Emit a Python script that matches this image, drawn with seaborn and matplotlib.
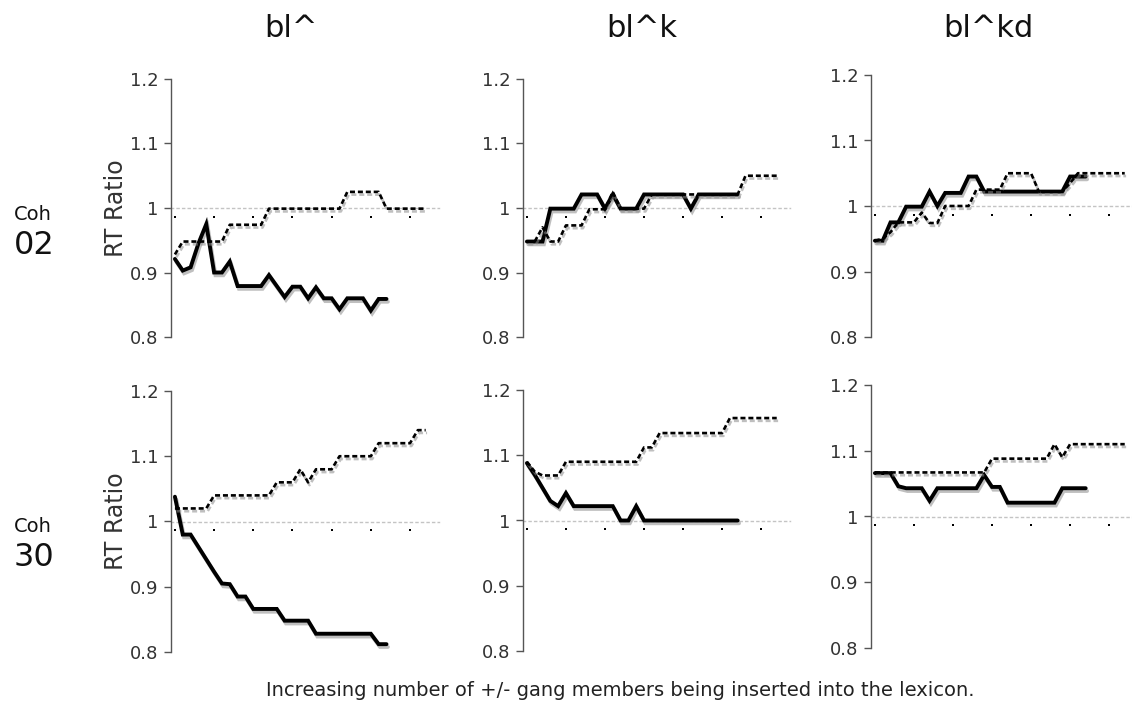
import numpy as np
import pandas as pd
import matplotlib
matplotlib.use("Agg")
import matplotlib.pyplot as plt
import matplotlib.patheffects as pe
from matplotlib.transforms import ScaledTranslation
import seaborn as sns

# ---------------- data ----------------
COLUMNS = ["bl^", "bl^k", "bl^kd"]
ROWS = ["02", "30"]
ROW_PREFIX = "Coh"
Y_LABEL = "RT Ratio"
X_LABEL = "Increasing number of +/- gang members being inserted into the lexicon."
YTICKS = [0.8, 0.9, 1.0, 1.1, 1.2]
YTICK_LABELS = ["0.8", "0.9", "1", "1.1", "1.2"]
XTICKS = [0, 5, 10, 15, 20, 25, 30]
REF_LEVEL = 1.0

coh02_bl_solid = [0.921, 0.903, 0.908, 0.945, 0.975, 0.900, 0.900, 0.917, 0.879, 0.879,
                  0.879, 0.879, 0.896, 0.879, 0.862, 0.878, 0.878, 0.860, 0.877, 0.860,
                  0.860, 0.843, 0.860, 0.860, 0.860, 0.841, 0.859, 0.859]
coh02_bl_dotted = [0.928, 0.948, 0.948, 0.948, 0.948, 0.948, 0.948, 0.974, 0.974, 0.974,
                   0.974, 0.974, 0.999, 0.999, 0.999, 0.999, 0.999, 0.999, 0.999, 0.999,
                   0.999, 0.999, 1.025, 1.025, 1.025, 1.025, 1.025, 0.999, 0.999, 0.999,
                   0.999, 0.999, 0.999]

coh02_blk_solid = [0.948, 0.948, 0.948, 0.999, 0.999, 0.999, 0.999, 1.021, 1.021, 1.021,
                   0.999, 1.021, 0.999, 0.999, 0.999, 1.021, 1.021, 1.021, 1.021, 1.021,
                   1.021, 0.999, 1.021, 1.021, 1.021, 1.021, 1.021, 1.021]
coh02_blk_dotted = [0.948, 0.948, 0.970, 0.948, 0.948, 0.973, 0.973, 0.973, 0.998, 0.998,
                    0.998, 1.025, 0.999, 0.999, 0.999, 0.999, 1.021, 1.021, 1.021, 1.021,
                    1.021, 1.021, 1.021, 1.021, 1.021, 1.021, 1.021, 1.021, 1.050, 1.050,
                    1.050, 1.050, 1.050]

coh02_blkd_solid = [0.947, 0.947, 0.975, 0.975, 0.999, 0.999, 0.999, 1.022, 1.000, 1.020,
                    1.020, 1.020, 1.045, 1.045, 1.022, 1.022, 1.022, 1.022, 1.022, 1.022,
                    1.022, 1.022, 1.022, 1.022, 1.022, 1.045, 1.045, 1.045]
coh02_blkd_dotted = [0.947, 0.950, 0.960, 0.975, 0.975, 0.975, 0.990, 0.974, 0.974, 1.000,
                     1.000, 1.000, 1.000, 1.025, 1.025, 1.025, 1.025, 1.050, 1.050, 1.050,
                     1.050, 1.022, 1.022, 1.022, 1.022, 1.035, 1.050, 1.050, 1.050, 1.050,
                     1.050, 1.050, 1.050]

coh30_bl_solid = [1.038, 0.980, 0.980, 0.961, 0.942, 0.923, 0.905, 0.904, 0.885, 0.885,
                  0.866, 0.866, 0.866, 0.866, 0.848, 0.848, 0.848, 0.848, 0.828, 0.828,
                  0.828, 0.828, 0.828, 0.828, 0.828, 0.828, 0.812, 0.812]
coh30_bl_dotted = [1.020, 1.020, 1.020, 1.020, 1.020, 1.040, 1.040, 1.040, 1.040, 1.040,
                   1.040, 1.040, 1.040, 1.060, 1.060, 1.060, 1.080, 1.060, 1.080, 1.080,
                   1.080, 1.100, 1.100, 1.100, 1.100, 1.100, 1.120, 1.120, 1.120, 1.120,
                   1.120, 1.140, 1.140]

coh30_blk_solid = [1.088, 1.070, 1.050, 1.030, 1.022, 1.042, 1.022, 1.022, 1.022, 1.022,
                   1.022, 1.022, 1.000, 1.000, 1.022, 1.000, 1.000, 1.000, 1.000, 1.000,
                   1.000, 1.000, 1.000, 1.000, 1.000, 1.000, 1.000, 1.000]
coh30_blk_dotted = [1.090, 1.075, 1.069, 1.069, 1.069, 1.090, 1.090, 1.090, 1.090, 1.090,
                    1.090, 1.090, 1.090, 1.090, 1.090, 1.112, 1.112, 1.134, 1.134, 1.134,
                    1.134, 1.134, 1.134, 1.134, 1.134, 1.134, 1.157, 1.157, 1.157, 1.157,
                    1.157, 1.157, 1.157]

coh30_blkd_solid = [1.066, 1.066, 1.066, 1.046, 1.043, 1.043, 1.043, 1.024, 1.043, 1.043,
                    1.043, 1.043, 1.043, 1.043, 1.063, 1.045, 1.045, 1.021, 1.021, 1.021,
                    1.021, 1.021, 1.021, 1.021, 1.043, 1.043, 1.043, 1.043]
coh30_blkd_dotted = [1.067, 1.067, 1.067, 1.067, 1.067, 1.067, 1.067, 1.067, 1.067, 1.067,
                     1.067, 1.067, 1.067, 1.067, 1.067, 1.088, 1.088, 1.088, 1.088, 1.088,
                     1.088, 1.088, 1.088, 1.110, 1.090, 1.110, 1.110, 1.110, 1.110, 1.110,
                     1.110, 1.110, 1.110]

SOLID = [[coh02_bl_solid, coh02_blk_solid, coh02_blkd_solid],
         [coh30_bl_solid, coh30_blk_solid, coh30_blkd_solid]]
DOTTED = [[coh02_bl_dotted, coh02_blk_dotted, coh02_blkd_dotted],
          [coh30_bl_dotted, coh30_blk_dotted, coh30_blkd_dotted]]

# ---------------- layout (pixels: left, top, right, bottom) ----------------
W, H = 1132, 704
RECTS = [[(171, 79, 439, 337), (523, 79, 790, 337), (871, 75, 1138, 337)],
         [(171, 391, 439, 652), (523, 390, 790, 651), (871, 385, 1138, 648)]]
TITLE_X = [291, 642, 988]

sns.set_theme(style="white")
plt.rcParams["font.family"] = ["DejaVu Sans"]

fig = plt.figure(figsize=(W / 100, H / 100), dpi=100)

shadow = [pe.SimpleLineShadow(offset=(1.0, -2.0), shadow_color="0.55", alpha=0.55),
          pe.Normal()]

for r in range(2):
    for c in range(3):
        l, t, rr, b = RECTS[r][c]
        ax = fig.add_axes([l / W, 1 - b / H, (rr - l) / W, (b - t) / H])
        ax.patch.set_alpha(0)

        s = SOLID[r][c]
        d = DOTTED[r][c]
        df_s = pd.DataFrame({"x": np.arange(len(s)), "y": s})
        df_d = pd.DataFrame({"x": np.arange(len(d)), "y": d})

        sns.lineplot(data=df_s, x="x", y="y", ax=ax, color="black", lw=2.8,
                     errorbar=None, solid_joinstyle="miter",
                     path_effects=shadow, zorder=3)
        sns.lineplot(data=df_d, x="x", y="y", ax=ax, color="black", lw=1.9,
                     errorbar=None, linestyle=(0, (1.9, 1.1)),
                     dash_capstyle="butt", path_effects=shadow, zorder=4)

        ax.set_xlim(-0.5, 33.7)
        ax.set_ylim(0.8, 1.2)
        ax.set_xlabel("")
        ax.set_ylabel("")

        for sp in ["top", "right"]:
            ax.spines[sp].set_visible(False)
        ax.spines["bottom"].set_position(("data", REF_LEVEL))
        ax.spines["bottom"].set_color("#c4c4c4")
        ax.spines["bottom"].set_linestyle((0, (1.5, 2.5)))
        ax.spines["bottom"].set_linewidth(1.0)
        ax.spines["bottom"].set_zorder(1)
        ax.spines["left"].set_color("#555555")
        ax.spines["left"].set_linewidth(1.0)

        ax.set_xticks(XTICKS)
        ax.set_xticklabels([])
        ax.tick_params(axis="x", length=0)
        ax.scatter(XTICKS, [REF_LEVEL] * len(XTICKS), s=2.5, marker="s",
                   color="black", linewidths=0, clip_on=False, zorder=2,
                   transform=ax.transData + ScaledTranslation(0, -9 / 100, fig.dpi_scale_trans))

        ax.set_yticks(YTICKS)
        ax.set_yticklabels(YTICK_LABELS)
        ax.tick_params(axis="y", direction="out", length=5, width=1.0,
                       color="#555555", labelsize=13, labelcolor="#333333",
                       pad=4, left=True)

        if c == 0:
            fig.text(116 / W, 1 - ((t + b) / 2) / H, Y_LABEL, rotation=90,
                     ha="center", va="center", fontsize=17, color="#333333")
        if r == 0:
            fig.text(TITLE_X[c] / W, 1 - 37 / H, COLUMNS[c], ha="center",
                     va="baseline", fontsize=22, color="#111111")

# row labels
for r, (cy1, cy2) in enumerate([(214, 245), (527, 558)]):
    fig.text(33 / W, 1 - cy1 / H, ROW_PREFIX, ha="center", va="center",
             fontsize=14, color="#111111")
    fig.text(34 / W, 1 - cy2 / H, ROWS[r], ha="center", va="center",
             fontsize=23, color="#111111")

fig.text(620 / W, 1 - 690 / H, X_LABEL, ha="center", va="center",
         fontsize=14, color="#222222")

fig.savefig("out.png", dpi=100)
